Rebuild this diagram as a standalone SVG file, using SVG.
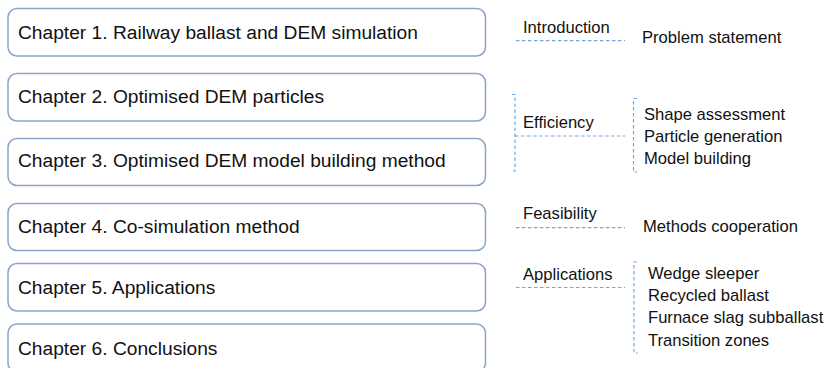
<svg xmlns="http://www.w3.org/2000/svg" width="829" height="368" viewBox="0 0 829 368">
<style>
.box{fill:#fff;stroke:#8aa5c8;stroke-width:1.5}
.t{font-family:"Liberation Sans",Arial,sans-serif;font-size:19.2px;fill:#111}
.s{font-family:"Liberation Sans",Arial,sans-serif;font-size:16.6px;fill:#111}
.d{fill:none;stroke:#6fa8e0;stroke-width:1.2;stroke-dasharray:3.5 2.5}
</style>
<rect width="829" height="368" fill="#fff"/>
<g id="ch1"><rect class="box" x="8" y="8.5" width="477.5" height="47.5" rx="9"/><text class="t" x="18" y="38.5">Chapter 1. Railway ballast and DEM simulation</text></g>
<g id="ch2"><rect class="box" x="8" y="73.5" width="477.5" height="47.5" rx="9"/><text class="t" x="18" y="103">Chapter 2. Optimised DEM particles</text></g>
<g id="ch3"><rect class="box" x="8" y="138.5" width="477.5" height="47" rx="9"/><text class="t" x="18" y="167">Chapter 3. Optimised DEM model building method</text></g>
<g id="ch4"><rect class="box" x="8" y="203.5" width="477.5" height="47" rx="9"/><text class="t" x="18" y="232.5">Chapter 4. Co-simulation method</text></g>
<g id="ch5"><rect class="box" x="8" y="263.5" width="477.5" height="47.5" rx="9"/><text class="t" x="18" y="293.5">Chapter 5. Applications</text></g>
<g id="ch6"><rect class="box" x="8" y="324" width="477.5" height="48" rx="9"/><text class="t" x="18" y="354.5">Chapter 6. Conclusions</text></g>
<g id="connectors">
<line class="d" x1="516" y1="40.7" x2="625" y2="40.7"/>
<path class="d" d="M512 94.5H515V171H512"/>
<line class="d" x1="515" y1="136" x2="625" y2="136"/>
<path class="d" d="M637 98.5H633.5V172H637"/>
<line class="d" x1="516" y1="227.7" x2="625" y2="227.7"/>
<line class="d" x1="516" y1="287.5" x2="625" y2="287.5"/>
<path class="d" d="M637 262H634V353H638"/>
</g>
<g id="introduction"><text class="s" x="523" y="33">Introduction</text><text class="s" x="642" y="43">Problem statement</text></g>
<g id="efficiency"><text class="s" x="523" y="128">Efficiency</text><text class="s" x="644" y="119.5">Shape assessment</text><text class="s" x="644" y="141.5">Particle generation</text><text class="s" x="644" y="163.5">Model building</text></g>
<g id="feasibility"><text class="s" x="523" y="218.5">Feasibility</text><text class="s" x="643" y="232">Methods cooperation</text></g>
<g id="applications"><text class="s" x="523" y="280">Applications</text><text class="s" x="648" y="278.5">Wedge sleeper</text><text class="s" x="648" y="300.5">Recycled ballast</text><text class="s" x="648" y="323">Furnace slag subballast</text><text class="s" x="648" y="345.5">Transition zones</text></g>
</svg>
